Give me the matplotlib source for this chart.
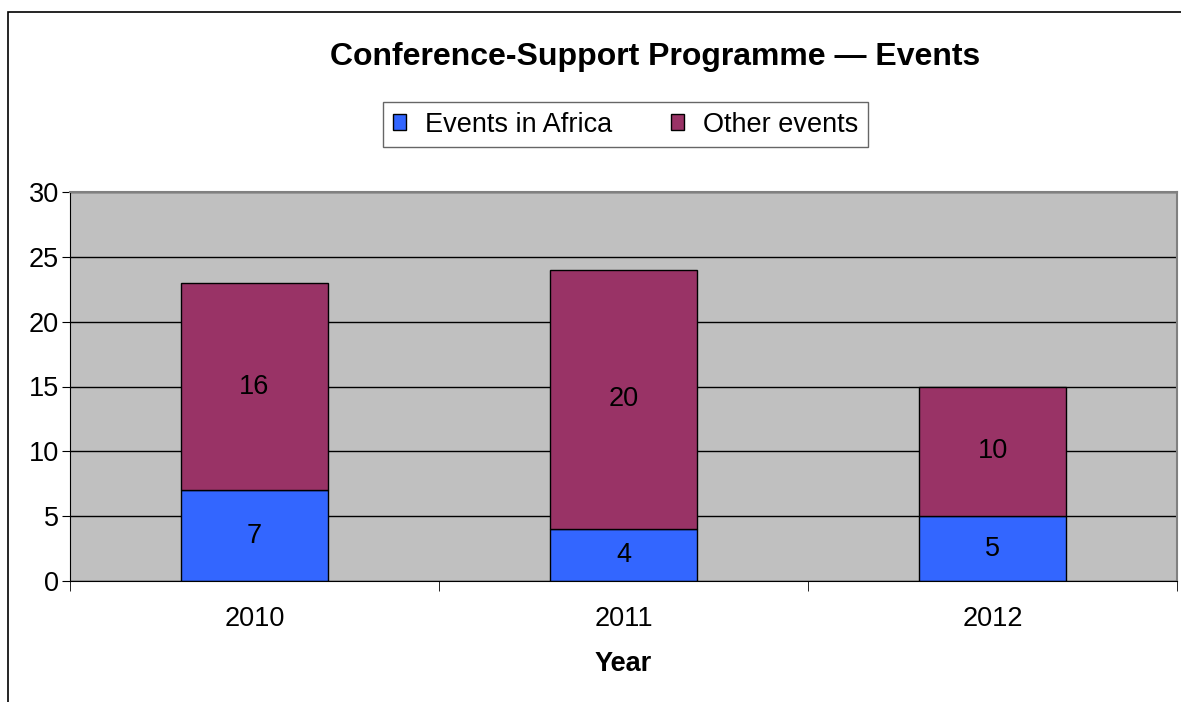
import numpy as np
import matplotlib.pyplot as plt
from matplotlib.patches import Rectangle

years = ["2010", "2011", "2012"]
africa = [7, 4, 5]
other = [16, 20, 10]

plt.rcParams['font.family'] = ['Liberation Sans', 'DejaVu Sans']

fig = plt.figure(figsize=(11.81, 7.02), dpi=100)
W, H = 1181, 702
# outer chart frame (right and bottom edges fall outside the image)
fig.patches.append(Rectangle((8 / W, -0.1), 1.2, 1 - 12 / H + 0.1, transform=fig.transFigure,
                             fill=False, edgecolor='black', lw=1.2))

ax = fig.add_axes([70 / W, 1 - 581 / H, (1177 - 70) / W, (581 - 192) / H])
ax.set_facecolor('#C0C0C0')

x = np.arange(len(years))
b1 = ax.bar(x, africa, width=0.4, color='#3366FF', edgecolor='black', lw=1, label='Events in Africa')
b2 = ax.bar(x, other, width=0.4, bottom=africa, color='#993366', edgecolor='black', lw=1, label='Other events')

for rect, v in zip(b1, africa):
    ax.text(rect.get_x() + rect.get_width() / 2, v / 2, str(v), ha='center', va='center', fontsize=19.5)
for rect, v, b in zip(b2, other, africa):
    ax.text(rect.get_x() + rect.get_width() / 2, b + v / 2, str(v), ha='center', va='center', fontsize=19.5)

ax.set_xlim(-0.5, 2.5)
ax.set_ylim(0, 30)
ax.set_yticks(range(0, 31, 5))
ax.yaxis.grid(True, color='black', lw=1)
ax.set_axisbelow(True)
ax.set_xticks(x)
ax.set_xticklabels(years, fontsize=19.5)
ax.tick_params(axis='x', length=0, pad=18)
ax.set_xticks([-0.5, 0.5, 1.5, 2.5], minor=True)
ax.tick_params(axis='x', which='minor', length=7, direction='out', color='black')
ax.tick_params(axis='y', labelsize=19.5, length=6, direction='out', pad=2)
ax.spines['top'].set_color('#808080')
ax.spines['right'].set_color('#808080')
ax.spines['top'].set_linewidth(1.5)
ax.spines['right'].set_linewidth(1.5)
ax.spines['left'].set_color('black')
ax.spines['bottom'].set_color('black')

ax.set_xlabel('Year', fontsize=19.5, fontweight='bold', labelpad=14)

fig.text(655 / W, 1 - 57 / H, 'Conference-Support Programme \u2014 Events', ha='center', va='center',
         fontsize=23, fontweight='bold')

leg = fig.legend(handles=[b1, b2], loc='center', bbox_to_anchor=(625.5 / W, 1 - 124.5 / H), ncol=2,
                 fontsize=19.5, frameon=True, fancybox=False, edgecolor='#404040',
                 handlelength=0.5, handleheight=0.5, handletextpad=0.7, columnspacing=2.15,
                 borderpad=0.35, borderaxespad=0)
leg.get_frame().set_linewidth(1)

fig.savefig('out.png', dpi=100)
